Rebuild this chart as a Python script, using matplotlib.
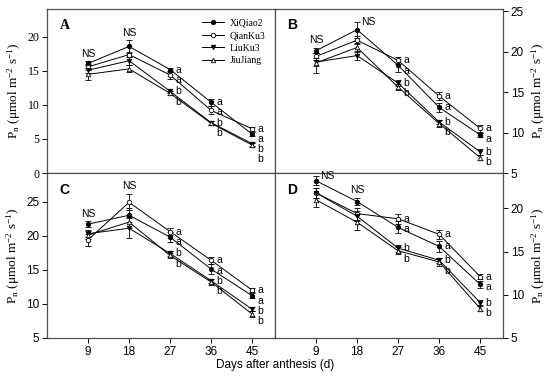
import matplotlib
matplotlib.use("Agg")
import matplotlib.pyplot as plt
from matplotlib.lines import Line2D
import numpy as np

plt.rcParams["mathtext.fontset"] = "custom"
plt.rcParams["mathtext.rm"] = "Liberation Serif"
plt.rcParams["mathtext.it"] = "Liberation Serif:italic"
plt.rcParams["mathtext.bf"] = "Liberation Serif:bold"

days = [9, 18, 27, 36, 45]
cultivars = ["XiQiao2", "QianKu3", "LiuKu3", "JiuJiang"]

# Panel A
A_XiQiao2 = [16.1, 18.6, 15.2, 10.4, 5.7]
A_QianKu3 = [15.6, 17.4, 14.4, 9.2, 6.5]
A_LiuKu3 = [15.1, 16.5, 12.0, 7.4, 4.3]
A_JiuJiang = [14.5, 15.3, 11.7, 7.3, 4.1]
A_err = [[0.3, 0.9, 0.3, 0.5, 0.3], [0.4, 0.4, 0.6, 0.6, 0.3],
         [0.4, 0.6, 0.3, 0.3, 0.3], [0.9, 0.5, 0.3, 0.3, 0.3]]
# Panel B
B_XiQiao2 = [20.1, 22.7, 18.3, 13.1, 9.7]
B_QianKu3 = [19.4, 21.4, 18.9, 14.5, 10.5]
B_LiuKu3 = [18.7, 19.5, 16.1, 11.3, 7.6]
B_JiuJiang = [18.6, 20.5, 15.6, 11.1, 6.9]
B_err = [[0.3, 1.0, 0.8, 0.6, 0.3], [0.4, 0.5, 0.4, 0.5, 0.4],
         [0.5, 0.6, 0.4, 0.3, 0.4], [1.2, 0.5, 0.4, 0.4, 0.3]]
# Panel C
C_XiQiao2 = [21.7, 23.0, 19.8, 15.1, 11.2]
C_QianKu3 = [19.4, 24.9, 20.6, 16.4, 12.0]
C_LiuKu3 = [20.3, 21.1, 17.4, 13.4, 9.2]
C_JiuJiang = [20.1, 22.0, 17.1, 13.2, 8.5]
C_err = [[0.4, 1.0, 0.7, 0.7, 0.4], [0.9, 1.2, 0.5, 0.5, 0.3],
         [0.5, 1.5, 0.4, 0.3, 0.3], [0.6, 0.8, 0.4, 0.4, 0.4]]
# Panel D
D_XiQiao2 = [23.2, 20.8, 17.8, 15.6, 11.2]
D_QianKu3 = [21.8, 19.4, 18.8, 17.0, 12.1]
D_LiuKu3 = [21.8, 19.1, 15.4, 14.0, 9.1]
D_JiuJiang = [21.0, 18.4, 15.1, 13.8, 8.4]
D_err = [[0.5, 0.4, 0.7, 0.6, 0.4], [0.6, 0.7, 0.6, 0.5, 0.3],
         [0.6, 0.6, 0.4, 0.3, 0.3], [0.8, 0.9, 0.4, 0.5, 0.3]]

sig_letters = ["NS", "NS", "aabb", "aabb", "aabb"]

panels = {
    "A": dict(vals=[A_XiQiao2, A_QianKu3, A_LiuKu3, A_JiuJiang], err=A_err,
              ylim=(0, 24.1), yticks=[0, 5, 10, 15, 20], side="left", sep=1.5),
    "B": dict(vals=[B_XiQiao2, B_QianKu3, B_LiuKu3, B_JiuJiang], err=B_err,
              ylim=(5, 25.25), yticks=[5, 10, 15, 20, 25], side="right", sep=1.25),
    "C": dict(vals=[C_XiQiao2, C_QianKu3, C_LiuKu3, C_JiuJiang], err=C_err,
              ylim=(5, 29.2), yticks=[5, 10, 15, 20, 25], side="left", sep=1.5),
    "D": dict(vals=[D_XiQiao2, D_QianKu3, D_LiuKu3, D_JiuJiang], err=D_err,
              ylim=(5, 24.1), yticks=[5, 10, 15, 20], side="right", sep=1.2),
}

styles = [dict(marker="o", mfc="black"), dict(marker="o", mfc="white"),
          dict(marker="v", mfc="black"), dict(marker="^", mfc="white")]

fig = plt.figure(figsize=(5.5, 3.82), dpi=100)
L, W = 47 / 550, 228 / 550
top, mid, bot = 1 - 9 / 382, 1 - 173 / 382, 1 - 338 / 382
rects = {"A": [L, mid, W, top - mid], "B": [L + W, mid, W, top - mid],
         "C": [L, bot, W, mid - bot], "D": [L + W, bot, W, mid - bot]}

spine_col = "#505050"
ylabel = r"P$_{\rm n}$ (μmol m$^{-2}$ s$^{-1}$)"

for name, p in panels.items():
    ax = fig.add_axes(rects[name])
    for s, vals, e, st in zip(cultivars, p["vals"], p["err"], styles):
        ax.errorbar(days, vals, yerr=e, color="black", lw=0.7, elinewidth=0.6,
                    capsize=2.2, capthick=0.6, marker=st["marker"], ms=3.2,
                    mfc=st["mfc"], mec="black", mew=0.6, label=s)
    ax.set_xlim(0, 50)
    ax.set_ylim(*p["ylim"])
    ax.set_yticks(p["yticks"])
    for sp in ax.spines.values():
        sp.set_color(spine_col)
        sp.set_linewidth(0.9)
    if name in ("C", "D"):
        ax.set_xticks(days)
        ax.tick_params(axis="x", direction="out", length=3.5, width=0.7,
                       labelsize=8.5, colors="black", pad=2)
    else:
        ax.set_xticks([])
    ax.tick_params(axis="y", direction="out", length=3.5, width=0.7,
                   labelsize=8.5, pad=2)
    if p["side"] == "right":
        ax.yaxis.tick_right()
        ax.yaxis.set_label_position("right")
        ax.set_ylabel(ylabel, family="Liberation Serif", fontsize=9.5,
                      rotation=90, labelpad=4)
    else:
        ax.set_ylabel(ylabel, family="Liberation Serif", fontsize=9.5,
                      labelpad=3)
    tick_family = "Liberation Serif" if name == "A" else "Liberation Sans"
    for lab in ax.get_yticklabels():
        lab.set_family(tick_family)
    for lab in ax.get_xticklabels():
        lab.set_family("Liberation Sans")

    # panel letter
    ax.text(0.055, 0.9, name, transform=ax.transAxes, fontsize=10,
            fontweight="bold", va="center", ha="left",
            family="Liberation Serif" if name == "A" else "Liberation Sans")

    # significance labels
    arr = np.array(p["vals"])
    errs = np.array(p["err"])
    for i, d in enumerate(days):
        lab = sig_letters[i]
        if lab == "NS":
            ytop = (arr[:, i] + errs[:, i]).max()
            if ytop + 2.0 > p["ylim"][1]:
                ax.text(d + 0.8, ytop, "NS", ha="left", va="center",
                        fontsize=7.5, family="Liberation Sans")
            else:
                ax.text(d, ytop + 0.4, "NS", ha="center", va="bottom",
                        fontsize=7.5, family="Liberation Sans")
        else:
            order = np.argsort(-arr[:, i])
            prev = None
            for k, idx in enumerate(order):
                yv = arr[idx, i]
                if prev is not None and prev - yv < p["sep"]:
                    yv = prev - p["sep"]
                prev = yv
                ax.text(d + 1.1, yv, lab[k], ha="left", va="center",
                        fontsize=7.5, family="Liberation Sans")

    if name == "A":
        handles = [Line2D([], [], color="black", lw=0.7, marker=st["marker"],
                          ms=3.2, mfc=st["mfc"], mec="black", mew=0.6)
                   for st in styles]
        ax.legend(handles, cultivars, loc="upper right", frameon=False,
                  prop={"family": "Liberation Serif", "size": 7},
                  handlelength=2.2, handletextpad=0.6,
                  labelspacing=0.35, borderaxespad=0.6)

fig.text(0.5, 0.045, "Days after anthesis (d)", ha="center", va="center",
         fontsize=8.5, family="Liberation Sans")

fig.savefig("out.png", dpi=100)
